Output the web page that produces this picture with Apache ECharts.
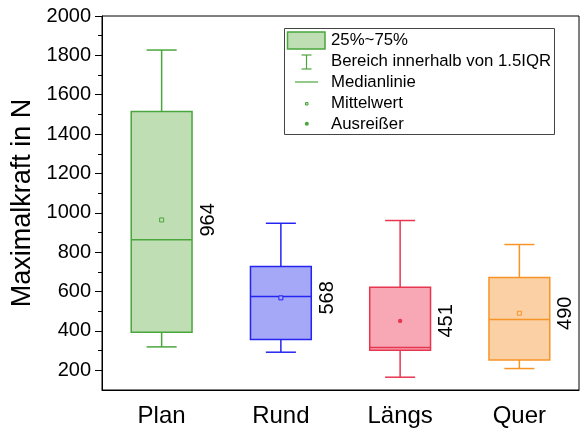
<!DOCTYPE html>
<html>
<head>
<meta charset="utf-8">
<script src="https://cdn.jsdelivr.net/npm/echarts@6/dist/echarts.min.js"></script>
<style>html,body{margin:0;padding:0;background:#fff}#c{width:582px;height:436px}</style>
</head>
<body>
<div id="c"></div>
<script>
const categories = ['Plan', 'Rund', 'Längs', 'Quer'];
const whiskerLow = [319, 292, 165, 209];
const q1 = [394, 356, 302, 253];
const median = [863, 575, 316, 458];
const q3 = [1515, 727, 622, 671];
const whiskerHigh = [1827, 947, 961, 839];
const meanValues = [964, 568, 451, 490];
const meanLabels = ['964', '568', '451', '490'];
const yMajorTicks = [200, 400, 600, 800, 1000, 1200, 1400, 1600, 1800, 2000];
const yMinorTicks = [300, 500, 700, 900, 1100, 1300, 1500, 1700, 1900];
const legendLabels = ['25%~75%', 'Bereich innerhalb von 1.5IQR', 'Medianlinie', 'Mittelwert', 'Ausreißer'];

const fillColors = ['#bfdeb4', '#a4a8f7', '#f8a8b4', '#fbd0a5'];
const strokeColors = ['#4aa63c', '#2424f0', '#e83550', '#f79427'];
const meanMarker = ['square', 'square', 'circle', 'square'];

const chart = echarts.init(document.getElementById('c'));
const FONT = 'Liberation Sans, Arial, sans-serif';

const data = categories.map((c, i) => [i, whiskerLow[i], q1[i], median[i], q3[i], whiskerHigh[i], meanValues[i]]);

function renderItem(params, api) {
  const i = params.dataIndex;
  const x = api.value(0);
  const pLow = api.coord([x, api.value(1)]);
  const pQ1 = api.coord([x, api.value(2)]);
  const pMed = api.coord([x, api.value(3)]);
  const pQ3 = api.coord([x, api.value(4)]);
  const pHigh = api.coord([x, api.value(5)]);
  const pMean = api.coord([x, api.value(6)]);
  const band = api.size([1, 0])[0];
  const half = band * 0.255;
  const cap = band * 0.126;
  const cx = pMed[0];
  const stroke = strokeColors[i];
  const lw = 1.5;
  const children = [
    {type: 'line', shape: {x1: cx, y1: pQ3[1], x2: cx, y2: pHigh[1]}, style: {stroke, lineWidth: lw}},
    {type: 'line', shape: {x1: cx, y1: pQ1[1], x2: cx, y2: pLow[1]}, style: {stroke, lineWidth: lw}},
    {type: 'line', shape: {x1: cx - cap, y1: pHigh[1], x2: cx + cap, y2: pHigh[1]}, style: {stroke, lineWidth: lw}},
    {type: 'line', shape: {x1: cx - cap, y1: pLow[1], x2: cx + cap, y2: pLow[1]}, style: {stroke, lineWidth: lw}},
    {type: 'rect', shape: {x: cx - half, y: pQ3[1], width: 2 * half, height: pQ1[1] - pQ3[1]}, style: {fill: fillColors[i], stroke, lineWidth: lw}},
    {type: 'line', shape: {x1: cx - half, y1: pMed[1], x2: cx + half, y2: pMed[1]}, style: {stroke, lineWidth: lw}}
  ];
  if (meanMarker[i] === 'circle') {
    children.push({type: 'circle', shape: {cx: cx, cy: pMean[1], r: 2.2}, style: {fill: stroke}});
  } else {
    children.push({type: 'rect', shape: {x: cx - 2, y: pMean[1] - 2, width: 4, height: 4}, style: {fill: fillColors[i], stroke, lineWidth: 1}});
  }
  children.push({
    type: 'text', x: cx + half + 16, y: pMean[1], rotation: Math.PI / 2,
    style: {text: meanLabels[i], fill: '#000', font: '20px ' + FONT, align: 'center', verticalAlign: 'middle'}
  });
  return {type: 'group', children};
}

// legend drawn as graphic elements
const lg = fillColors[0], ls = strokeColors[0];
const rowY = [40.5, 61.5, 82.5, 103.5, 124];
const legendGraphics = [
  {type: 'rect', shape: {x: 284.5, y: 28.5, width: 270, height: 106}, style: {fill: '#fff', stroke: '#444', lineWidth: 1}, z: 10},
  {type: 'rect', shape: {x: 287.5, y: 32, width: 37.5, height: 17}, style: {fill: lg, stroke: ls, lineWidth: 1.5}, z: 11},
  {type: 'line', shape: {x1: 306.5, y1: 55, x2: 306.5, y2: 69}, style: {stroke: ls, lineWidth: 1.2}, z: 11},
  {type: 'line', shape: {x1: 301.5, y1: 55, x2: 311.5, y2: 55}, style: {stroke: ls, lineWidth: 1.2}, z: 11},
  {type: 'line', shape: {x1: 301.5, y1: 69, x2: 311.5, y2: 69}, style: {stroke: ls, lineWidth: 1.2}, z: 11},
  {type: 'line', shape: {x1: 295, y1: 82, x2: 318, y2: 82}, style: {stroke: ls, lineWidth: 1.2}, z: 11},
  {type: 'rect', shape: {x: 305.5, y: 102.5, width: 2.5, height: 2.5}, style: {fill: lg, stroke: ls, lineWidth: 1}, z: 11},
  {type: 'circle', shape: {cx: 306.8, cy: 123.8, r: 2}, style: {fill: ls}, z: 11}
];
legendLabels.forEach((t, k) => {
  legendGraphics.push({type: 'text', x: 331, y: rowY[k], z: 11,
    style: {text: t, fill: '#000', font: '16.8px ' + FONT, align: 'left', verticalAlign: 'middle'}});
});

chart.setOption({
  animation: false,
  grid: {left: 102, right: 3, top: 16, bottom: 46, show: true, borderColor: '#000', borderWidth: 1,
         backgroundColor: 'transparent', containLabel: false, outerBoundsMode: 'none'},
  xAxis: {
    type: 'category', data: categories, boundaryGap: true,
    axisLine: {lineStyle: {color: '#000', width: 1}},
    axisTick: {alignWithLabel: true, length: 7, lineStyle: {color: '#000'}},
    axisLabel: {color: '#000', fontSize: 24, fontFamily: FONT, margin: 14},
    splitLine: {show: false}
  },
  yAxis: [{
    type: 'value', min: 100, max: 2000, position: 'left',
    name: 'Maximalkraft in N', nameLocation: 'middle', nameGap: 54,
    nameTextStyle: {color: '#000', fontSize: 27, fontFamily: FONT},
    axisLine: {show: true, lineStyle: {color: '#000', width: 1}},
    axisTick: {show: true, length: 7, customValues: yMajorTicks, lineStyle: {color: '#000'}},
    axisLabel: {color: '#000', fontSize: 20, fontFamily: FONT, margin: 11, customValues: yMajorTicks,
                formatter: v => String(v)},
    splitLine: {show: false}
  }, {
    type: 'value', min: 100, max: 2000, position: 'left', offset: 0,
    axisLine: {show: false},
    axisTick: {show: true, length: 4, customValues: yMinorTicks, lineStyle: {color: '#000'}},
    axisLabel: {show: false},
    splitLine: {show: false}
  }],
  graphic: legendGraphics,
  series: [{
    type: 'custom', renderItem, data, encode: {x: 0, y: [1, 2, 3, 4, 5, 6]}, xAxisIndex: 0, yAxisIndex: 0, clip: false
  }]
});
</script>
</body>
</html>
